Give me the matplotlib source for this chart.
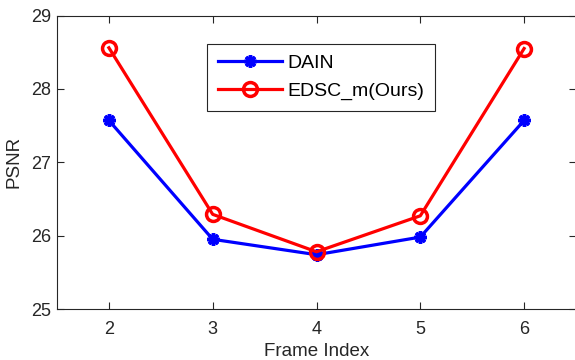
import matplotlib
matplotlib.use('Agg')
from matplotlib import pyplot as plt

frames = [2, 3, 4, 5, 6]
dain = [27.57, 25.95, 25.74, 25.98, 27.57]
edsc = [28.56, 26.29, 25.78, 26.27, 28.55]

plt.rcParams['font.family'] = ['Liberation Sans', 'DejaVu Sans']
plt.rcParams['font.size'] = 13

fig = plt.figure(figsize=(5.75, 3.6), dpi=100)
ax = fig.add_axes([57 / 575, 1 - 309 / 360, 519 / 575, 293.5 / 360])

ax.plot(frames, dain, color='blue', lw=2.3, marker=(8, 2, 0), ms=9, mew=2.5, label='DAIN')
ax.plot(frames, edsc, color='red', lw=2.3, marker='o', ms=10, mfc='none', mew=2.5, label='EDSC_m(Ours)')

ax.set_xlim(1.5, 6.5)
ax.set_ylim(25, 29)
ax.set_xticks(frames)
ax.set_yticks([25, 26, 27, 28, 29])
ax.set_xlabel('Frame Index', color='0.15', fontsize=13.5, labelpad=3)
ax.set_ylabel('PSNR', color='0.15', fontsize=13.5, labelpad=6)
ax.tick_params(direction='in', top=True, right=True, colors='0.15', length=5, width=0.8)
ax.tick_params(axis='x', pad=9)
ax.tick_params(axis='y', pad=4)
for s in ax.spines.values():
    s.set_color('0.15')
    s.set_linewidth(0.8)

leg = ax.legend(loc='upper left', bbox_to_anchor=((207 - 57) / 519, (309 - 44) / 293.5),
                fancybox=False, edgecolor='0.15', framealpha=1, handlelength=3.3,
                borderpad=0.55, labelspacing=0.5, handletextpad=0.3, borderaxespad=0,
                fontsize=14)
leg.get_frame().set_linewidth(0.8)

fig.savefig('out.png', dpi=100)
